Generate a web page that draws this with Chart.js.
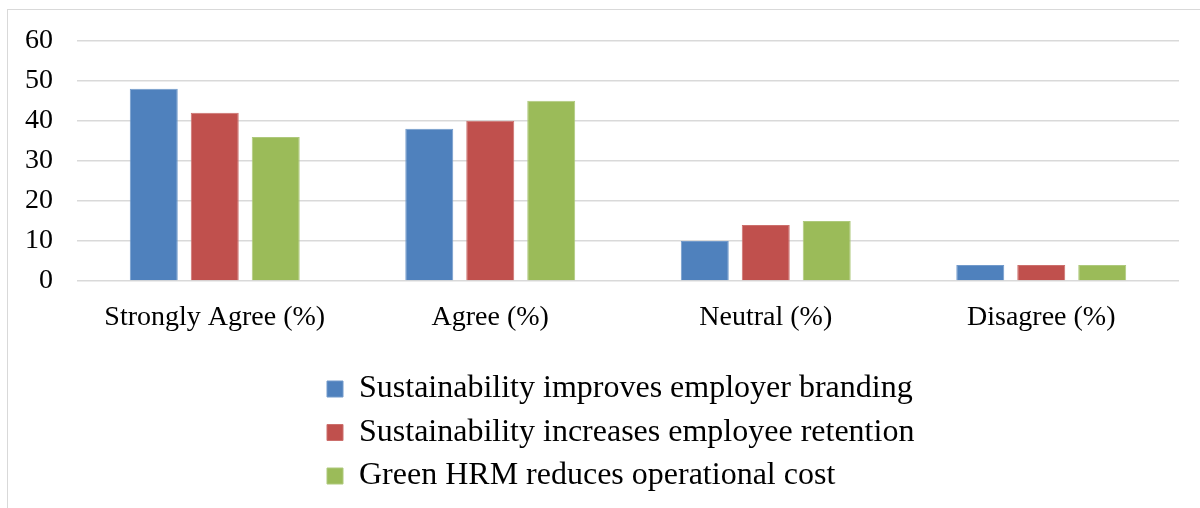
<!DOCTYPE html>
<html>
<head>
<meta charset="utf-8">
<script src="https://cdn.jsdelivr.net/npm/chart.js@4/dist/chart.umd.min.js"></script>
<style>
  html, body { margin: 0; padding: 0; background: #fff; overflow: hidden; }
  #frame { position: absolute; left: 7px; top: 9px; width: 1400px; height: 700px; border: 1px solid #d9d9d9; box-sizing: border-box; }
  #wrap { position: absolute; left: 0; top: 0; width: 1200px; height: 508px; }
</style>
</head>
<body>
<div id="frame"></div>
<div id="wrap"><canvas id="c" width="1200" height="508"></canvas></div>
<script>
const categories = ['Strongly Agree (%)', 'Agree (%)', 'Neutral (%)', 'Disagree (%)'];
const seriesNames = [
  'Sustainability improves employer branding',
  'Sustainability increases employee retention',
  'Green HRM reduces operational cost'
];
const brandingValues = [48, 38, 10, 4];
const retentionValues = [42, 40, 14, 4];
const costValues = [36, 45, 15, 4];
const yTicks = [0, 10, 20, 30, 40, 50, 60];

const colors = ['#4F81BD', '#C0504D', '#9BBB59'];
const edgeColors = ['#729acb', '#cc6f6c', '#aec97c'];
const FONT = "'Liberation Serif', 'Times New Roman', serif";

const legendShift = {
  id: 'legendShift',
  afterLayout(chart) {
    const lg = chart.legend;
    if (lg) { lg.left = 315.5; }
  }
};

const seriesValues = [brandingValues, retentionValues, costValues];
new Chart(document.getElementById('c'), {
  type: 'bar',
  data: {
    labels: categories,
    datasets: seriesNames.map((name, i) => ({
      label: name,
      data: seriesValues[i],
      backgroundColor: colors[i],
      borderColor: edgeColors[i],
      borderWidth: 1,
      categoryPercentage: 0.664,
      barPercentage: 0.787
    }))
  },
  options: {
    responsive: false,
    animation: false,
    devicePixelRatio: 1,
    layout: { padding: { left: 0, right: 21, top: 39, bottom: 6 } },
    plugins: {
      tooltip: { enabled: false },
      legend: {
        position: 'bottom',
        align: 'start',
        fullSize: false,
        labels: {
          boxWidth: 16,
          boxHeight: 16,
          padding: 11.5,
          color: '#000',
          font: { family: FONT, size: 32 }
        }
      }
    },
    scales: {
      x: {
        grid: { display: false },
        border: { display: false },
        ticks: { color: '#000', padding: 12, font: { family: FONT, size: 28 }, maxRotation: 0 },
        afterFit(scale) { scale.height = 80.5; }
      },
      y: {
        min: 0,
        max: 60,
        afterBuildTicks(scale) { scale.ticks = yTicks.map(v => ({ value: v })); },
        grid: { color: '#d9d9d9', lineWidth: 1.5, drawTicks: false },
        border: { display: false },
        ticks: { color: '#000', padding: 24, font: { family: FONT, size: 28 } },
        afterFit(scale) { scale.width = 77; }
      }
    }
  },
  plugins: [legendShift]
});
</script>
</body>
</html>
